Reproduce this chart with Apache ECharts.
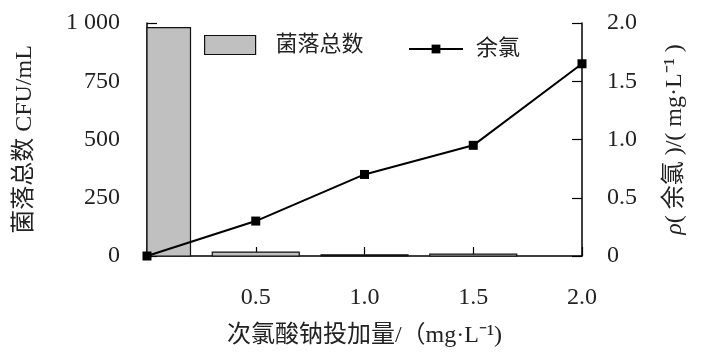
<!DOCTYPE html>
<html><head><meta charset="utf-8">
<script src="https://cdn.jsdelivr.net/npm/echarts@6/dist/echarts.min.js"></script>
<style>html,body{margin:0;padding:0;background:#fff}#c{width:723px;height:364px}</style>
</head><body><div id="c"></div>
<script>
const doses = [0, 0.5, 1.0, 1.5, 2.0];
const colonyCounts = [980, 17, 5, 8, null];
const residualChlorine = [0, 0.3, 0.7, 0.95, 1.65];
const leftTicks = [0, 250, 500, 750, 1000];
const rightTicks = [0, 0.5, 1.0, 1.5, 2.0];
const xTicks = [0.5, 1.0, 1.5, 2.0];

const FONT = "'Liberation Serif', 'Noto Sans CJK SC', serif";
const BAR_W = 0.4; // bar width in dose units
const chart = echarts.init(document.getElementById('c'));
const barData = doses.map((d, i) => [d, colonyCounts[i]]).filter(p => p[1] !== null);
const lineData = doses.map((d, i) => [d, residualChlorine[i]]);
const txt = { fontFamily: FONT, color: '#222' };

chart.setOption({
  animation: false,
  backgroundColor: '#fff',
  textStyle: { fontFamily: FONT, color: '#111' },
  grid: { left: 147, right: 141, top: 23, bottom: 108 },
  legend: [{
    left: 204, top: 34, padding: 0,
    itemWidth: 51, itemHeight: 19,
    textStyle: Object.assign({ fontSize: 22, padding: [0, 0, 0, 15] }, txt),
    data: [{ name: '菌落总数', icon: 'rect',
      itemStyle: { color: '#c0c0c0', borderColor: '#111', borderWidth: 1.2 } }]
  }, {
    left: 408, top: 38, padding: 0,
    itemWidth: 54, itemHeight: 11,
    textStyle: Object.assign({ fontSize: 22, padding: [0, 0, 0, 8] }, txt),
    data: ['余氯']
  }],
  xAxis: {
    type: 'value', min: 0, max: 2, interval: 0.5,
    name: '次氯酸钠投加量/（mg·L⁻¹)', nameLocation: 'middle', nameGap: 68,
    nameTextStyle: Object.assign({ fontSize: 24 }, txt),
    axisLine: { show: true, lineStyle: { color: '#000', width: 1.5 } },
    axisTick: { show: true, inside: true, length: 9, lineStyle: { color: '#000', width: 1.2 } },
    axisLabel: Object.assign({ fontSize: 24, margin: 30,
      formatter: v => xTicks.indexOf(v) >= 0 ? v.toFixed(1) : '' }, txt),
    splitLine: { show: false }
  },
  yAxis: [{
    type: 'value', min: 0, max: 1000, interval: 250, position: 'left',
    name: '菌落总数 CFU/mL', nameLocation: 'middle', nameGap: 110, nameRotate: 90,
    nameTextStyle: Object.assign({ fontSize: 24 }, txt),
    axisLine: { show: true, lineStyle: { color: '#000', width: 1.5 } },
    axisTick: { show: true, inside: true, length: 10, lineStyle: { color: '#000', width: 1.2 } },
    axisLabel: Object.assign({ fontSize: 24, margin: 27,
      formatter: v => leftTicks.indexOf(v) >= 0 ? (v >= 1000 ? '1 000' : String(v)) : '' }, txt),
    splitLine: { show: false }
  }, {
    type: 'value', min: 0, max: 2, interval: 0.5, position: 'right',
    name: '{i|ρ}( 余氯 )/( mg·L⁻¹ )', nameLocation: 'middle', nameGap: 81, nameRotate: 90,
    nameTextStyle: Object.assign({ fontSize: 24,
      rich: { i: { fontSize: 24, fontFamily: FONT, fontStyle: 'italic', color: '#222' } } }, txt),
    axisLine: { show: true, lineStyle: { color: '#000', width: 1.5 } },
    axisTick: { show: true, inside: true, length: 10, lineStyle: { color: '#000', width: 1.2 } },
    axisLabel: Object.assign({ fontSize: 24, margin: 25,
      formatter: v => rightTicks.indexOf(v) >= 0 ? (v === 0 ? '0' : v.toFixed(1)) : '' }, txt),
    splitLine: { show: false }
  }],
  series: [{
    name: '菌落总数', type: 'custom', yAxisIndex: 0,
    encode: { x: 0, y: 1 },
    itemStyle: { color: '#c0c0c0', borderColor: '#111', borderWidth: 1.2 },
    renderItem: function (params, api) {
      const x = api.value(0), y = api.value(1);
      const base = api.coord([x, 0]);
      const top = api.coord([x, y]);
      const w = api.size([BAR_W, 0])[0];
      const cs = params.coordSys;
      const shape = echarts.graphic.clipRectByRect(
        { x: base[0] - w / 2, y: top[1], width: w, height: base[1] - top[1] },
        { x: cs.x, y: cs.y, width: cs.width, height: cs.height });
      if (!shape) return null;
      return { type: 'rect', shape: shape,
        style: { fill: '#c0c0c0', stroke: '#111', lineWidth: 1.2 } };
    },
    data: barData
  }, {
    name: '余氯', type: 'line', yAxisIndex: 1,
    symbol: 'rect', symbolSize: 9, clip: false, z: 5,
    lineStyle: { color: '#000', width: 2 },
    itemStyle: { color: '#000' },
    data: lineData
  }]
});
</script></body></html>
